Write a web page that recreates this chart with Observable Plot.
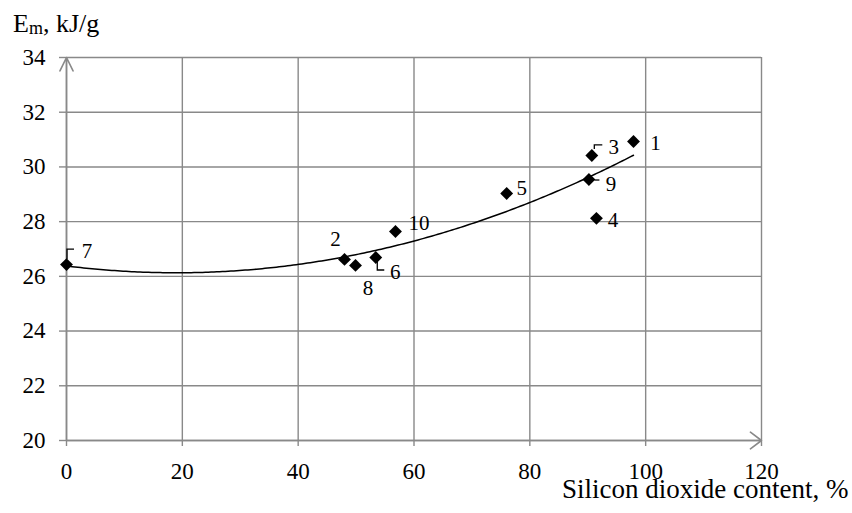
<!DOCTYPE html>
<html><head><meta charset="utf-8">
<script src="https://cdn.jsdelivr.net/npm/d3@7"></script>
<script src="https://cdn.jsdelivr.net/npm/@observablehq/plot@0.6"></script>
<style>
body{margin:0;background:#fff}
svg{display:block}
svg text{font-family:'Liberation Serif','Times New Roman',serif !important}
g[aria-label="x-axis tick label"] text, g[aria-label="y-axis tick label"] text{font-size:23px}
</style>
</head><body><div id="chart"></div>
<script>
// ---- data ----
const sampleIds     = ["1", "2", "3", "4", "5", "6", "7", "8", "9", "10"];
const silicaContent = [97.9, 48.0, 90.7, 91.5, 76.0, 53.4, 0.0, 49.9, 90.2, 56.8];
const energy        = [30.93, 26.62, 30.42, 28.12, 29.03, 26.69, 26.43, 26.40, 29.54, 27.64];
const xTicks = [0, 20, 40, 60, 80, 100, 120];
const yTicks = [20, 22, 24, 26, 28, 30, 32, 34];
const yLabelMain = "E";
const yLabelSub = "m";
const yLabelRest = ", kJ/g";
const xLabel = "Silicon dioxide content, %";

// ---- label placement styling (pixel offsets) ----
const labelOffsets = {
  "1": [22, 1.5], "2": [-9, -20.5], "3": [22, -8], "4": [16.5, 2], "5": [15, -5],
  "6": [19.5, 14.5], "7": [20.5, -13.5], "8": [12.5, 22.5], "9": [22, 5], "10": [23.5, -8.5]
};
const leaderPaths = {
  "3": [[3, -6], [3, -10], [11, -10]],
  "6": [[2, 4], [2, 13], [9, 13]],
  "7": [[1, -5], [1, -15], [8, -15]],
  "9": [[6, 1], [11, 1]]
};

const points = sampleIds.map((id, i) => ({id, x: silicaContent[i], y: energy[i]}));

// ---- 2nd order polynomial least-squares trendline ----
function quadFit(xs, ys) {
  const S = k => d3.sum(xs, x => x ** k);
  const T = k => d3.sum(xs, (x, i) => x ** k * ys[i]);
  const A = [[S(0), S(1), S(2)], [S(1), S(2), S(3)], [S(2), S(3), S(4)]];
  const b = [T(0), T(1), T(2)];
  const n = 3, M = A.map((r, i) => [...r, b[i]]);
  for (let c = 0; c < n; c++) {
    let p = c; for (let r = c + 1; r < n; r++) if (Math.abs(M[r][c]) > Math.abs(M[p][c])) p = r;
    [M[c], M[p]] = [M[p], M[c]];
    for (let r = 0; r < n; r++) if (r !== c) {
      const f = M[r][c] / M[c][c];
      for (let k = c; k <= n; k++) M[r][k] -= f * M[c][k];
    }
  }
  return M.map((r, i) => r[n] / r[i]);
}
const [c0, c1, c2] = quadFit(silicaContent, energy);
const xMin = d3.min(silicaContent), xMax = d3.max(silicaContent);
const trend = d3.range(0, 201).map(k => {
  const x = xMin + (xMax - xMin) * k / 200;
  return {x, y: c0 + c1 * x + c2 * x * x};
});

const GRID = "#898989";
const FONT = "'Liberation Serif', 'Times New Roman', serif";

const leaderMark = (index, scales) => {
  const g = d3.create("svg:g").attr("fill", "none").attr("stroke", "black").attr("stroke-width", 1.3);
  for (const p of points) {
    const path = leaderPaths[p.id];
    if (!path) continue;
    const px = scales.x(p.x), py = scales.y(p.y);
    g.append("path").attr("d", "M" + path.map(([dx, dy]) => `${px + dx},${py + dy}`).join("L"));
  }
  return g.node();
};

const svg = Plot.plot({
  width: 852,
  height: 513,
  marginLeft: 66,
  marginRight: 91,
  marginTop: 57,
  marginBottom: 73,
  style: {fontFamily: FONT, background: "white", fontSize: "22px"},
  x: {domain: [0, 120]},
  y: {domain: [20, 34]},
  marks: [
    Plot.gridX(xTicks, {stroke: GRID, strokeOpacity: 1, strokeWidth: 1.4}),
    Plot.gridY(yTicks, {stroke: GRID, strokeOpacity: 1, strokeWidth: 1.4}),
    Plot.axisX({ticks: xTicks, tickSize: 6, tickPadding: 16, fontSize: 23, fontFamily: FONT, stroke: GRID, strokeWidth: 1.4, fill: "black", label: null, tickFormat: d => String(d)}),
    Plot.axisY({ticks: yTicks, tickSize: 7, tickPadding: 14, fontSize: 23, fontFamily: FONT, stroke: GRID, strokeWidth: 1.4, fill: "black", label: null, tickFormat: d => String(d)}),
    Plot.arrow([{x1: 0, y1: 20, x2: 120, y2: 20}], {x1: "x1", y1: "y1", x2: "x2", y2: "y2", stroke: GRID, strokeWidth: 1.6, headLength: 13, headAngle: 74, inset: 0}),
    Plot.arrow([{x1: 0, y1: 20, x2: 0, y2: 34}], {x1: "x1", y1: "y1", x2: "x2", y2: "y2", stroke: GRID, strokeWidth: 1.6, headLength: 14, headAngle: 52, inset: 0}),
    Plot.line(trend, {x: "x", y: "y", stroke: "black", strokeWidth: 1.5}),
    Plot.dot(points, {x: "x", y: "y", symbol: "diamond2", r: 5.8, fill: "black", stroke: "none"}),
    leaderMark,
    ...points.map(p => Plot.text([p], {
      x: "x", y: "y", text: "id", dx: labelOffsets[p.id][0], dy: labelOffsets[p.id][1],
      fontSize: 21, fontFamily: FONT, fill: "black", textAnchor: "middle", lineAnchor: "middle"
    })),
    Plot.text([xLabel], {frameAnchor: "bottom-right", text: d => d, dx: 87, dy: 49, textAnchor: "end", lineAnchor: "middle", fontSize: 27, fontFamily: FONT, fill: "black"})
  ]
});

const t = d3.select(svg).append("text")
  .attr("x", 13).attr("y", 32).attr("text-anchor", "start")
  .attr("font-family", FONT).attr("font-size", 26).attr("fill", "black");
t.append("tspan").text(yLabelMain);
t.append("tspan").attr("font-size", 18).attr("dy", 2).text(yLabelSub);
t.append("tspan").attr("dy", -2).text(yLabelRest);

document.getElementById("chart").appendChild(svg);
</script>
</body></html>
